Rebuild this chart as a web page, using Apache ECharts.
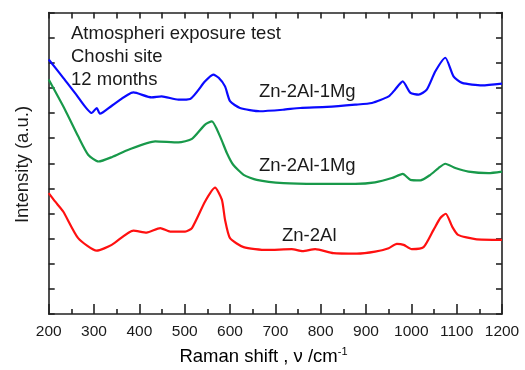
<!DOCTYPE html>
<html>
<head>
<meta charset="utf-8">
<script src="https://cdn.jsdelivr.net/npm/echarts@6/dist/echarts.min.js"></script>
<style>
html,body{margin:0;padding:0;background:#fff;}
#chart{width:525px;height:370px;}
</style>
</head>
<body>
<div id="chart"></div>
<script>
// Raman shift (cm-1) and intensity (a.u., offset traces)
var xBlue = [200, 230, 260, 295, 306, 313, 340, 387, 427, 449, 486, 512, 545, 563, 575, 589, 600, 622, 666, 717, 755, 814, 876, 913, 950, 964, 981, 998, 1016, 1034, 1053, 1075, 1093, 1112, 1156, 1200];
var yBlue = [10.13, 9.45, 8.75, 8.0, 8.2, 7.97, 8.3, 8.82, 8.62, 8.66, 8.53, 8.56, 9.26, 9.53, 9.4, 9.06, 8.47, 8.2, 8.07, 8.13, 8.2, 8.24, 8.33, 8.4, 8.66, 8.93, 9.26, 8.8, 8.73, 8.93, 9.66, 10.2, 9.46, 9.2, 9.1, 9.17];

var xGreen = [200, 236, 265, 287, 310, 340, 376, 435, 486, 516, 545, 560, 578, 593, 607, 630, 659, 718, 792, 876, 920, 957, 981, 998, 1020, 1042, 1060, 1075, 1097, 1126, 1170, 1200];
var yGreen = [9.33, 8.13, 7.07, 6.34, 6.07, 6.25, 6.54, 6.87, 6.83, 6.97, 7.54, 7.67, 7.07, 6.41, 5.94, 5.54, 5.34, 5.21, 5.18, 5.18, 5.24, 5.41, 5.58, 5.34, 5.32, 5.54, 5.81, 5.98, 5.81, 5.67, 5.61, 5.67];

var xRed = [200, 214, 232, 265, 306, 339, 387, 416, 446, 468, 501, 516, 545, 567, 582, 589, 600, 630, 681, 736, 760, 788, 828, 880, 920, 950, 968, 983, 1001, 1027, 1049, 1064, 1076, 1090, 1103, 1141, 1200];
var yRed = [4.81, 4.48, 4.08, 3.02, 2.52, 2.75, 3.32, 3.24, 3.42, 3.28, 3.28, 3.42, 4.48, 5.03, 4.55, 3.75, 3.02, 2.66, 2.55, 2.58, 2.5, 2.58, 2.42, 2.4, 2.48, 2.62, 2.79, 2.75, 2.58, 2.66, 3.35, 3.82, 3.99, 3.48, 3.15, 2.98, 2.95];

var seriesNames = ['Zn-2Al-1Mg', 'Zn-2Al-1Mg', 'Zn-2Al'];
var noteLines = ['Atmospheri exposure test', 'Choshi site', '12 months'];
var xTitle = 'Raman shift , \u03bd /cm';
var yTitle = 'Intensity (a.u.)';

function pairs(xs, ys) { return xs.map(function (x, i) { return [x, ys[i]]; }); }

var FONT = '"Liberation Sans", Arial, sans-serif';
var AX = '#222';
var TXT = '#1a1a1a';
var FS = 18.5;
var chart = echarts.init(document.getElementById('chart'), null, {renderer: 'canvas'});

var axisCommon = {
  axisLine: {show: true, onZero: false, lineStyle: {color: AX, width: 1.6}},
  splitLine: {show: false}
};

chart.setOption({
  animation: false,
  backgroundColor: '#fff',
  grid: {left: 48.7, right: 23, top: 12.5, bottom: 56, containLabel: false},
  xAxis: [
    Object.assign({
      type: 'value', min: 200, max: 1200, interval: 100, position: 'bottom',
      axisTick: {show: true, inside: true, length: 10, lineStyle: {color: AX, width: 1.6}},
      minorTick: {show: true, splitNumber: 2, length: 5, lineStyle: {color: AX, width: 1.6}},
      axisLabel: {show: true, margin: 10, color: TXT, fontSize: 15.5, fontFamily: FONT,
        showMinLabel: true, showMaxLabel: true, formatter: function (v) { return String(v); }}
    }, axisCommon),
    Object.assign({
      type: 'value', min: 200, max: 1200, interval: 50, position: 'top',
      axisTick: {show: true, inside: true, length: 6, lineStyle: {color: AX, width: 1.6}},
      axisLabel: {show: false}
    }, axisCommon)
  ],
  yAxis: [
    Object.assign({
      type: 'value', min: 0, max: 12, interval: 1, position: 'left',
      axisTick: {show: true, inside: true, length: 6, lineStyle: {color: AX, width: 1.6}},
      axisLabel: {show: false}
    }, axisCommon),
    Object.assign({
      type: 'value', min: 0, max: 12, interval: 1, position: 'right',
      axisTick: {show: true, inside: true, length: 6, lineStyle: {color: AX, width: 1.6}},
      axisLabel: {show: false}
    }, axisCommon)
  ],
  series: [
    {name: seriesNames[0], type: 'line', data: pairs(xBlue, yBlue), showSymbol: false, smooth: 0.2,
      lineStyle: {color: '#0a0aff', width: 2.2}, itemStyle: {color: '#0a0aff'}},
    {name: seriesNames[1], type: 'line', data: pairs(xGreen, yGreen), showSymbol: false, smooth: 0.2,
      lineStyle: {color: '#18994a', width: 2.2}, itemStyle: {color: '#18994a'}},
    {name: seriesNames[2], type: 'line', data: pairs(xRed, yRed), showSymbol: false, smooth: 0.2,
      lineStyle: {color: '#ff1010', width: 2.2}, itemStyle: {color: '#ff1010'}}
  ],
  graphic: [
    {type: 'text', left: 71, top: 23, style: {text: noteLines.join('\n'), fontSize: FS, lineHeight: 22.7, fontFamily: FONT, fill: TXT}},
    {type: 'text', x: 259, y: 91.5, style: {text: seriesNames[0], fontSize: FS, fontFamily: FONT, fill: TXT, align: 'left', verticalAlign: 'middle'}},
    {type: 'text', x: 259, y: 166, style: {text: seriesNames[1], fontSize: FS, fontFamily: FONT, fill: TXT, align: 'left', verticalAlign: 'middle'}},
    {type: 'text', x: 282, y: 236, style: {text: seriesNames[2], fontSize: FS, fontFamily: FONT, fill: TXT, align: 'left', verticalAlign: 'middle'}},
    {type: 'text', x: 263.5, y: 357, style: {
      text: '{a|' + xTitle + '}{s|-1}', align: 'center', verticalAlign: 'middle',
      rich: {a: {fontSize: FS, fontFamily: FONT, color: TXT},
             s: {fontSize: 11, fontFamily: FONT, color: TXT, padding: [0, 0, 10, 0]}}}},
    {type: 'text', x: 23, y: 164.5, rotation: Math.PI / 2, style: {text: yTitle, fontSize: FS, fontFamily: FONT, fill: TXT, align: 'center', verticalAlign: 'middle'}}
  ]
});
</script>
</body>
</html>
